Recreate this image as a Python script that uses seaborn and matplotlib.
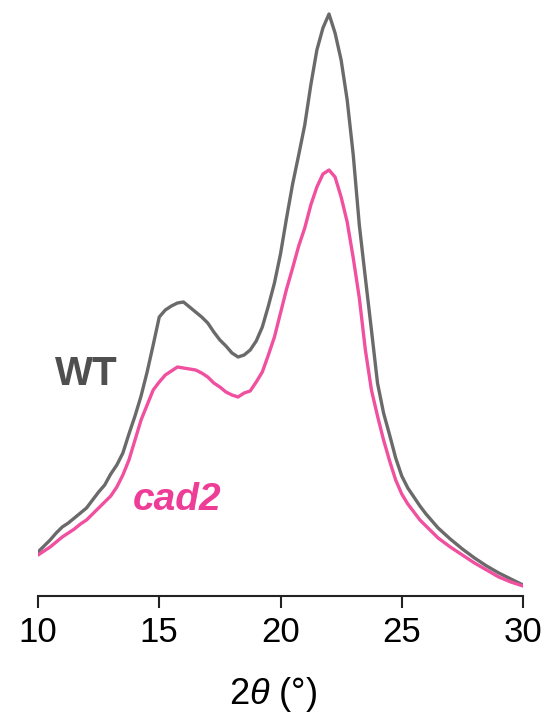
import numpy as np
import pandas as pd
import seaborn as sns
import matplotlib.pyplot as plt

sns.set_style("white")
plt.rcParams['font.family'] = ['Liberation Sans', 'DejaVu Sans']
plt.rcParams['mathtext.fontset'] = 'custom'
plt.rcParams['mathtext.rm'] = 'Liberation Sans'
plt.rcParams['mathtext.it'] = 'Liberation Sans:italic'

# 2theta (deg) e intensidad (u.a.)
dos_theta = [10, 10.25, 10.5, 10.75, 11, 11.25, 11.5, 11.75, 12, 12.25, 12.5, 12.75,
             13, 13.25, 13.5, 13.75, 14, 14.25, 14.5, 14.75, 15, 15.25, 15.5, 15.75,
             16, 16.25, 16.5, 16.75, 17, 17.25, 17.5, 17.75, 18, 18.25, 18.5, 18.75,
             19, 19.25, 19.5, 19.75, 20, 20.25, 20.5, 20.75, 21, 21.25, 21.5, 21.75,
             22, 22.25, 22.5, 22.75, 23, 23.25, 23.5, 23.75, 24, 24.25, 24.5, 24.75,
             25, 25.25, 25.5, 25.75, 26, 26.5, 27, 27.5, 28, 28.5, 29, 29.5, 30]
wt = [44, 50, 56, 63, 69, 73, 78, 83, 88, 96, 104, 111,
      122, 131, 143, 162, 180, 200, 224, 251, 279, 286, 290, 293,
      294, 289, 284, 279, 273, 264, 256, 250, 243, 239, 241, 246,
      255, 269, 290, 313, 342, 378, 412, 441, 471, 511, 546, 568,
      582, 563, 536, 496, 441, 371, 318, 266, 213, 183, 161, 138,
      120, 108, 99, 90, 82, 68, 57, 47, 38, 30, 23, 17, 11]
cad2 = [41, 45, 49, 54, 59, 63, 67, 72, 76, 82, 88, 94,
        100, 109, 121, 136, 156, 176, 191, 206, 214, 221, 225, 229,
        228, 227, 226, 223, 219, 213, 209, 204, 201, 199, 203, 205,
        214, 224, 241, 259, 283, 307, 328, 350, 368, 391, 409, 422,
        426, 419, 399, 374, 338, 298, 246, 206, 180, 156, 135, 116,
        102, 92, 84, 76, 70, 58, 49, 41, 33, 26, 19, 14, 10]

gris = "#6a6a6a"
rosa = "#f0509f"

fig = plt.figure(figsize=(5.46, 7.22), dpi=100)
ax = fig.add_axes([38/546, 126/722, 485/546, 586/722])

sns.lineplot(x=dos_theta, y=wt, color=gris, linewidth=2.4, ax=ax)
sns.lineplot(x=dos_theta, y=cad2, color=rosa, linewidth=2.4, ax=ax)

ax.text(10.7, 211, "WT", color="#4f4f4f", fontsize=29, fontweight="bold",
        ha="left", va="baseline")
ax.text(13.92, 86, "cad2", color="#ee3d96", fontsize=28, fontweight="bold",
        fontstyle="italic", ha="left", va="baseline")

ax.set_xlim(10, 30)
ax.set_ylim(0, 586)
ax.set_xticks([10, 15, 20, 25, 30])
ax.set_yticks([])
for lado in ["left", "right", "top"]:
    ax.spines[lado].set_visible(False)
ax.spines["bottom"].set_linewidth(1.5)
ax.spines["bottom"].set_color("#222222")
ax.tick_params(axis="x", direction="out", length=8.5, width=1.5, color="#222222",
               labelsize=25, labelcolor="black", pad=6, bottom=True)
ax.set_xlabel(r"2$\it{θ}$ (°)", fontsize=26, color="black")
ax.xaxis.set_label_coords(0.485, -0.135)

plt.savefig("out.png", dpi=100)
